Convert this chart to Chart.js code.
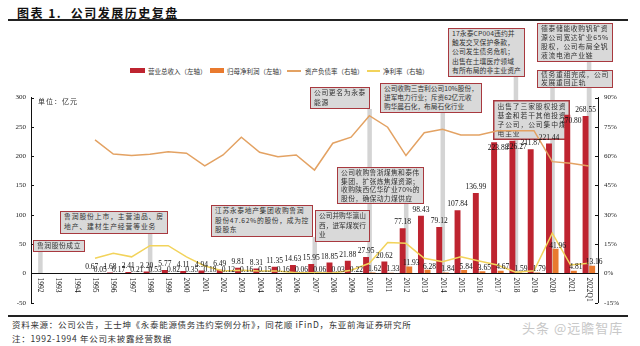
<!DOCTYPE html>
<html><head><meta charset="utf-8">
<script src="https://cdn.jsdelivr.net/npm/chart.js@4.4.1/dist/chart.umd.min.js"></script>
<style>
body{margin:0;background:#fff;}
#wrap{position:relative;width:640px;height:346px;overflow:hidden;font-family:'Noto Sans CJK SC',sans-serif;color:#222;background:#fff;}
#cv{position:absolute;left:0;top:0;z-index:1;}
.title{position:absolute;left:17px;top:4px;font-size:12px;font-weight:bold;letter-spacing:1.5px;color:#111;white-space:nowrap;}
.rule{position:absolute;left:8px;width:620px;height:2px;background:#222;}
.lg{position:absolute;font-size:6.5px;white-space:nowrap;color:#333;line-height:8px;}
.sw{position:absolute;}
.unit{position:absolute;left:38px;top:97px;font-size:7px;letter-spacing:1px;color:#333;line-height:9px;z-index:2;}
.box{position:absolute;background:#D9D9D9;border:1.5px solid #A8393F;box-sizing:border-box;color:#333;padding:0 3px;white-space:nowrap;overflow:hidden;z-index:2;}
.foot{position:absolute;left:12px;font-size:8.5px;letter-spacing:0.7px;color:#333;white-space:nowrap;line-height:10px;}
.wm{position:absolute;left:522px;top:318px;font-size:13px;color:#c8c8c8;white-space:nowrap;letter-spacing:1px;}
</style></head>
<body><div id="wrap">
<canvas id="cv" width="640" height="346"></canvas>
<div class="title">图表 1.&nbsp;&nbsp;公司发展历史复盘</div>
<div class="rule" style="top:19px"></div>
<div class="sw" style="left:130px;top:68px;width:15px;height:5px;background:#BE2430"></div>
<div class="lg" style="left:148px;top:66.5px">营业总收入（左轴）</div>
<div class="sw" style="left:210px;top:68px;width:14px;height:5px;background:#E97A2E"></div>
<div class="lg" style="left:227px;top:66.5px">归母净利润（左轴）</div>
<div class="sw" style="left:287px;top:70px;width:14px;height:1.5px;background:#E3A263"></div>
<div class="lg" style="left:305px;top:66.5px">资产负债率（右轴）</div>
<div class="sw" style="left:367px;top:70px;width:13px;height:1.5px;background:#F2D35B"></div>
<div class="lg" style="left:383px;top:66.5px">净利率（右轴）</div>
<div class="unit">单位：亿元</div>
<div class="rule" style="top:315px;height:1.5px"></div>
<div class="foot" style="top:319px">资料来源：公司公告，王士坤《永泰能源债务违约案例分析》，同花顺 iFinD，东亚前海证券研究所</div>
<div class="foot" style="top:333px">注：1992-1994 年公司未披露经营数据</div>
<div class="wm">头条 @远瞻智库</div>
</div>
<script>
// ---- data ----
const categories = ['1992','1993','1994','1995','1996','1997','1998','1999','2000','2001','2002','2003','2004','2005','2006','2007','2008','2009','2010','2011','2012','2013','2014','2015','2016','2017','2018','2019','2020','2021','2022Q1'];
const revenue = [null,null,null,0.67,1.68,2.41,3.20,5.77,4.11,4.94,6.49,9.81,8.31,11.35,14.63,15.95,18.85,21.88,27.95,20.62,77.18,98.43,79.12,107.84,136.99,223.88,226.27,211.87,221.44,270.80,268.55];
const netProfit = [null,null,null,0.05,0.17,0.21,0.53,0.82,0.35,0.18,0.12,0.16,0.15,0.16,0.06,0.06,0.03,0.22,1.62,1.33,11.93,6.28,1.84,5.84,3.65,4.67,1.59,1.79,41.96,4.81,13.16];
const debtRatio = [null,null,null,68.3,61.1,60.3,61.0,62.3,61.5,55.0,60.6,69.7,62.0,59.7,60.6,52.9,66.6,69.7,80.7,74.8,60.3,72.0,73.7,70.8,70.8,73.0,73.0,73.0,57.2,56.4,55.0];
const netMargin = [null,null,null,7.8,10.3,8.5,14.2,14.2,8.5,3.8,1.3,1.6,1.3,1.3,0.4,0.4,0.2,1.7,5.2,15.8,15.4,7.8,6.0,8.6,6.4,4.3,0.6,1.4,20.6,4.3,5.2];
const leftTicks = [-50,0,50,100,150,200,250,300];
const rightTicks = [-15,0,15,30,45,60,75,90];

// ---- label placement (style): revenue labels drawn just inside the bar top ----
const revLabelInside = ['2017','2018','2021'];

// ---- annotation layout ----
const notes = [
  {cat:'1992', box:[33,240,52,12], text:['鲁润股份成立']},
  {cat:'1998', box:[60,211,108,23], text:['鲁润股份上市，主营油品、房','地产、建材生产经营等业务']},
  {cat:'2007', box:[211,205,102,32], text:['江苏永泰地产集团收购鲁润','股份47.62%的股份，成为控','股股东']},
  {cat:null,   box:[315,210,55,32], text:['公司并购华瀛山','西，进军煤炭行','业']},
  {cat:'2010', box:[310,87,60,22], text:['公司更名为永泰','能源']},
  {cat:'2014', box:[380,83,102,30], text:['公司收购三吉利公司10%股份，','进军电力行业；斥资62亿元收','购华晨石化，布局石化行业']},
  {cat:'2012', box:[337,167,87,37], text:['公司收购鲁浙煤焦和泰伟','集团，扩张炼焦煤资源；','收购陕西亿华矿业70%的','股份，确保动力煤供应']},
  {cat:'2018', box:[448,28,77,49], text:['17永泰CP004违约并','触发交叉保护条款，','公司发生债务危机；','出售在土壤医疗领域','有所布局的非主业资产']},
  {cat:'2022Q1', box:[537,23,76,39], text:['德泰储能收购钒矿资','源公司宽达矿业65%','股权，公司布局全钒','液流电池产业链']},
  {cat:'2020', box:[537,70,76,18], text:['债务重组完成，公司','发展重回正轨'], extra:['2022Q1']},
  {cat:null,   box:[493,100,77,40], text:['出售了三家股权投资','基金和若干其他投资','子公司，公司集中煤','电主业'], under:true}
];
const CJK = "'Noto Sans CJK SC'";
const mctx = document.createElement('canvas').getContext('2d');
function boxLayout(n){
  const [l,t,w,h] = n.box;
  const innerW = w - 3 - 5, innerH = h - 3;
  let fs = 6.8;
  mctx.font = fs + 'px ' + CJK;
  let maxW = 0, maxN = 1;
  n.text.forEach(s => { const mw = mctx.measureText(s).width; if (mw > maxW) { maxW = mw; maxN = [...s].length; } });
  if (maxW > innerW) { fs = fs * innerW / maxW; maxW = innerW; }
  const ls = Math.max(0, Math.min(1.2, (innerW - maxW) / maxN));
  const lh = Math.min(9.6, innerH / n.text.length);
  const pad = Math.max(0, (innerH - lh * n.text.length) / 2);
  return {fs, ls, lh, pad};
}
const wrap = document.getElementById('wrap');
notes.forEach(n => {
  if (n.under) return;
  const d = document.createElement('div');
  d.className = 'box';
  const [l,t,w,h] = n.box;
  const L = boxLayout(n);
  d.style.left = l+'px'; d.style.top = t+'px'; d.style.width = w+'px'; d.style.height = h+'px';
  d.style.fontSize = L.fs + 'px';
  d.style.letterSpacing = L.ls + 'px';
  d.style.lineHeight = L.lh + 'px';
  d.style.paddingTop = L.pad + 'px';
  d.innerHTML = n.text.join('<br>');
  wrap.appendChild(d);
});

const serif = "'Liberation Serif','Times New Roman',serif";

const overlay = {
  id:'overlay',
  beforeDatasetsDraw(chart){
    const ctx = chart.ctx, xs = chart.scales.x, ys = chart.scales.y;
    const y0 = ys.getPixelForValue(0);
    ctx.save();
    ctx.fillStyle = '#D4D4D4';
    notes.forEach(n => {
      const cats = [];
      if (n.cat) cats.push(n.cat);
      if (n.extra) cats.push(...n.extra);
      const bottom = n.box[1] + n.box[3];
      cats.forEach(c => {
        const px = xs.getPixelForValue(categories.indexOf(c));
        ctx.fillRect(px-2, bottom, 4.5, y0-bottom);
      });
    });
    // annotation box that sits beneath the series
    notes.filter(n => n.under).forEach(n => {
      const [l,t,w,h] = n.box;
      const L = boxLayout(n);
      ctx.fillStyle = '#D9D9D9'; ctx.fillRect(l,t,w,h);
      ctx.strokeStyle = '#A8393F'; ctx.lineWidth = 1.5; ctx.strokeRect(l+0.75,t+0.75,w-1.5,h-1.5);
      ctx.fillStyle = '#333'; ctx.font = L.fs + 'px ' + CJK;
      ctx.textAlign = 'left'; ctx.textBaseline = 'middle';
      n.text.forEach((s,k) => {
        let x = l + 1.5 + 3;
        const y = t + 1.5 + L.pad + L.lh*(k+0.5);
        [...s].forEach(ch => { ctx.fillText(ch, x, y); x += ctx.measureText(ch).width + L.ls; });
      });
    });
    ctx.restore();
  },
  afterDatasetsDraw(chart){
    const ctx = chart.ctx, xs = chart.scales.x, ys = chart.scales.y, yr = chart.scales.y1, ca = chart.chartArea;
    const y0 = ys.getPixelForValue(0);
    ctx.save();
    ctx.strokeStyle = '#111'; ctx.lineWidth = 1;
    ctx.beginPath(); ctx.moveTo(ca.left, Math.round(y0)+0.5); ctx.lineTo(ca.right, Math.round(y0)+0.5); ctx.stroke();
    ctx.beginPath();
    leftTicks.forEach(v => { const py = Math.round(ys.getPixelForValue(v))+0.5; ctx.moveTo(ca.left, py); ctx.lineTo(ca.left+3, py); });
    rightTicks.forEach(v => { const py = Math.round(yr.getPixelForValue(v))+0.5; ctx.moveTo(ca.right, py); ctx.lineTo(ca.right-3, py); });
    ctx.stroke();
    ctx.fillStyle = '#111';
    ctx.font = '7.5px ' + serif;
    ctx.textAlign = 'center'; ctx.textBaseline = 'bottom';
    const mRev = chart.getDatasetMeta(0), mPro = chart.getDatasetMeta(1);
    revenue.forEach((v,i) => {
      if (v==null) return;
      const el = mRev.data[i];
      const inside = revLabelInside.includes(categories[i]);
      ctx.fillText(v.toFixed(2), el.x + (inside ? 4 : 0), inside ? el.y + 10 : el.y - 2);
    });
    netProfit.forEach((v,i) => { if (v==null) return; const el = mPro.data[i]; ctx.fillText(v.toFixed(2), el.x+2, el.y+0.5); });
    ctx.font = '7.5px ' + serif;
    ctx.textAlign = 'left'; ctx.textBaseline = 'middle';
    categories.forEach((c,i) => {
      const px = xs.getPixelForValue(i);
      ctx.save(); ctx.translate(px, y0+4); ctx.rotate(Math.PI/2); ctx.fillText(c, 0, 0); ctx.restore();
    });
    ctx.restore();
  }
};

new Chart(document.getElementById('cv'), {
  type:'bar',
  data:{
    labels: categories,
    datasets:[
      {type:'bar', label:'营业总收入（左轴）', data:revenue, backgroundColor:'#BE2430', yAxisID:'y', order:3, categoryPercentage:0.72, barPercentage:0.9},
      {type:'bar', label:'归母净利润（左轴）', data:netProfit, backgroundColor:'#E97A2E', yAxisID:'y', order:3, categoryPercentage:0.72, barPercentage:0.9},
      {type:'line', label:'资产负债率（右轴）', data:debtRatio, borderColor:'#E3A263', borderWidth:1.5, pointRadius:0, yAxisID:'y1', order:1, tension:0},
      {type:'line', label:'净利率（右轴）', data:netMargin, borderColor:'#F2D35B', borderWidth:1.5, pointRadius:0, yAxisID:'y1', order:2, tension:0}
    ]
  },
  options:{
    responsive:false, animation:false, devicePixelRatio:1,
    layout:{padding:{top:97.5, bottom:43.2, left:0, right:0}},
    plugins:{legend:{display:false}, tooltip:{enabled:false}},
    scales:{
      x:{display:false, offset:true},
      y:{position:'left', min:-50, max:300, afterFit(s){s.width=31;},
         ticks:{stepSize:50, font:{family:serif, size:7}, color:'#222', padding:5},
         grid:{display:false, drawTicks:false}, border:{display:true, color:'#111', width:1}},
      y1:{position:'right', min:-15, max:90, afterFit(s){s.width=42;},
         ticks:{stepSize:15, font:{family:serif, size:7}, color:'#222', padding:6, callback:v=>v+'%'},
         grid:{display:false, drawTicks:false}, border:{display:true, color:'#111', width:1}}
    }
  },
  plugins:[overlay]
});
</script>
</body></html>
